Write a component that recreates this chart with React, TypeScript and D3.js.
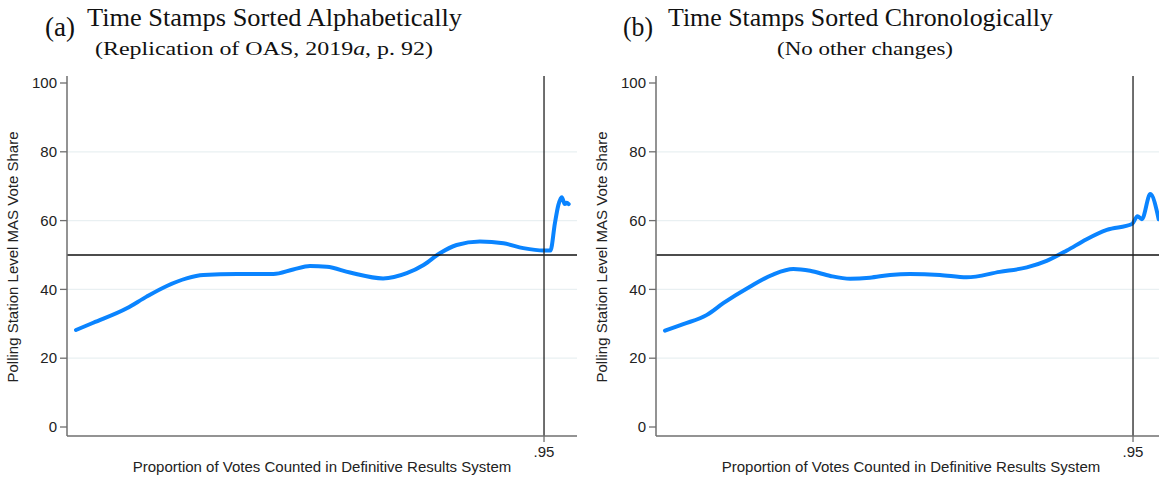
import React from "react";
import * as d3 from "d3";

// Lowess-smoothed MAS vote share against share of votes counted
const alphaX = [0.002, 0.037, 0.105, 0.145, 0.186, 0.226, 0.26, 0.328, 0.402, 0.442, 0.476, 0.51, 0.557, 0.624, 0.672, 0.706, 0.739, 0.773, 0.82, 0.868, 0.908, 0.949, 0.963, 0.972, 0.979, 0.986, 0.992, 0.996, 1.0];
const alphaY = [28.2, 30.3, 34.5, 37.9, 41.0, 43.2, 44.2, 44.5, 44.5, 45.8, 46.8, 46.6, 44.9, 43.2, 44.7, 47.1, 50.5, 52.9, 53.9, 53.4, 52.0, 51.3, 51.3, 59.2, 64.5, 66.8, 64.8, 65.2, 64.8];

const chronoX = [0.002, 0.039, 0.087, 0.12, 0.174, 0.222, 0.262, 0.296, 0.337, 0.377, 0.417, 0.458, 0.498, 0.559, 0.613, 0.68, 0.735, 0.775, 0.816, 0.856, 0.897, 0.948, 0.959, 0.968, 0.985, 1.002];
const chronoY = [28.0, 29.9, 32.6, 36.0, 40.8, 44.4, 45.9, 45.4, 43.9, 43.1, 43.4, 44.2, 44.5, 44.2, 43.5, 45.1, 46.4, 48.3, 51.3, 54.6, 57.3, 59.0, 61.3, 60.4, 67.7, 60.4];

const yTicks = [0, 20, 40, 60, 80, 100];
const gridTicks = [20, 40, 60, 80];
const xTicks = [0.95];
const refLineY = 50;
const refLineX = 0.95;

const yTitle = "Polling Station Level MAS Vote Share";
const xTitle = "Proportion of Votes Counted in Definitive Results System";

const W = 1159;
const H = 478;
const plotTop = 76;
const plotBottom = 436;
const plotWidth = 510;
const sans = "'Liberation Sans', Arial, sans-serif";
const serif = "'Liberation Serif', 'Times New Roman', serif";
const lineBlue = "#0a84ff";

const y = d3.scaleLinear().domain([0, 100]).range([427, 83]);

type PanelProps = {
  left: number;
  xs: number[];
  ys: number[];
  label: string;
  title: string;
  subtitle: React.ReactNode;
  titleX: number;
  titleW: number;
  subX: number;
  subW: number;
  labelX: number;
  id: string;
};

function Panel({ left, xs, ys, label, title, subtitle, titleX, titleW, subX, subW, labelX, id }: PanelProps) {
  const x = d3.scaleLinear().domain([-0.0162, 1.0168]).range([left, left + plotWidth]);
  const pts: [number, number][] = xs.map((v, i) => [x(v), y(ys[i])]);
  const line = d3.line<[number, number]>().x((d) => d[0]).y((d) => d[1]).curve(d3.curveMonotoneX);
  const right = left + plotWidth;
  const axisGray = "#6f6f6f";
  return (
    <g>
      <text x={labelX} y={36} textLength={30} lengthAdjust="spacingAndGlyphs" fontFamily={serif} fontSize={27} fill="#111">{label}</text>
      <text x={titleX} y={26} textLength={titleW} lengthAdjust="spacingAndGlyphs" fontFamily={serif} fontSize={26} fill="#111">{title}</text>
      <text x={subX} y={55} textLength={subW} lengthAdjust="spacingAndGlyphs" fontFamily={serif} fontSize={19.5} fill="#111">{subtitle}</text>

      {gridTicks.map((t) => (
        <line key={"g" + t} x1={left} x2={right} y1={y(t)} y2={y(t)} stroke="#e9f0f2" strokeWidth={1.2} />
      ))}

      <clipPath id={id}>
        <rect x={left} y={plotTop} width={plotWidth} height={plotBottom - plotTop} />
      </clipPath>
      <path d={line(pts) || ""} fill="none" stroke={lineBlue} strokeWidth={4} strokeLinejoin="round" strokeLinecap="round" clipPath={`url(#${id})`} />

      <line x1={left} x2={right} y1={y(refLineY)} y2={y(refLineY)} stroke="#111" strokeWidth={1.3} />
      <line x1={x(refLineX)} x2={x(refLineX)} y1={plotTop} y2={plotBottom} stroke="#222" strokeWidth={1.3} />

      {/* y axis */}
      <line x1={left} x2={left} y1={plotTop} y2={plotBottom} stroke={axisGray} strokeWidth={1.5} />
      {yTicks.map((t) => (
        <g key={"y" + t}>
          <line x1={left - 7} x2={left} y1={y(t)} y2={y(t)} stroke={axisGray} strokeWidth={1.3} />
          <text x={left - 10} y={y(t)} dy="0.35em" textAnchor="end" fontFamily={sans} fontSize={15} fill="#222">{t}</text>
        </g>
      ))}
      <text transform={`translate(${left - 49},${(plotTop + plotBottom) / 2 + 1}) rotate(-90)`} textAnchor="middle" fontFamily={sans} fontSize={15} fill="#222">{yTitle}</text>

      {/* x axis */}
      <line x1={left} x2={right} y1={plotBottom} y2={plotBottom} stroke={axisGray} strokeWidth={1.5} />
      {xTicks.map((t) => (
        <g key={"x" + t}>
          <line x1={x(t)} x2={x(t)} y1={plotBottom} y2={plotBottom + 6} stroke={axisGray} strokeWidth={1.3} />
          <text x={x(t)} y={457} textAnchor="middle" fontFamily={sans} fontSize={15} fill="#222">{d3.format(".2f")(t).replace(/^0/, "")}</text>
        </g>
      ))}
      <text x={left + plotWidth / 2} y={472} textAnchor="middle" fontFamily={sans} fontSize={15} fill="#222">{xTitle}</text>
    </g>
  );
}

export default function App() {
  return (
    <svg width={W} height={H} style={{ position: "absolute", left: 0, top: 0, background: "#fff" }}>
      <rect width={W} height={H} fill="#fff" />
      <Panel
        id="clipA"
        left={67}
        xs={alphaX}
        ys={alphaY}
        label="(a)"
        labelX={45}
        title="Time Stamps Sorted Alphabetically"
        titleX={87}
        titleW={375}
        subtitle={<>(Replication of OAS, 2019<tspan fontStyle="italic">a</tspan>, p. 92)</>}
        subX={95}
        subW={338}
      />
      <Panel
        id="clipB"
        left={656}
        xs={chronoX}
        ys={chronoY}
        label="(b)"
        labelX={623}
        title="Time Stamps Sorted Chronologically"
        titleX={668}
        titleW={385}
        subtitle="(No other changes)"
        subX={777}
        subW={176}
      />
    </svg>
  );
}
